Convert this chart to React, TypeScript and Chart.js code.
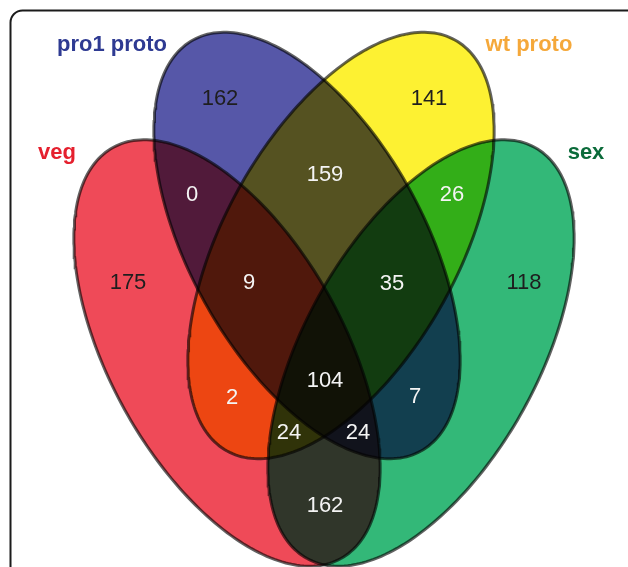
import { useEffect, useRef } from 'react';
import { Chart, registerables } from 'chart.js';

Chart.register(...registerables);

// ---- data ----
const setNames = ['veg', 'pro1 proto', 'wt proto', 'sex'];
const setFill = ['rgb(239,74,88)', 'rgb(86,87,168)', 'rgb(253,241,50)', 'rgb(51,184,120)'];
const setLabelColor = ['#E5202E', '#2E3A92', '#F5A83A', '#0B6B3A'];

// region counts (one per Venn region)
const regionNames = [
  'veg', 'pro1', 'wt', 'sex',
  'veg&pro1', 'pro1&wt', 'wt&sex',
  'veg&pro1&wt', 'pro1&wt&sex', 'all',
  'veg&wt', 'pro1&sex', 'veg&wt&sex', 'veg&pro1&sex', 'veg&sex',
];
const regionCounts = [175, 162, 141, 118, 0, 159, 26, 9, 35, 104, 2, 7, 24, 24, 162];

// ---- layout (canvas units) ----
const regionX = [128, 220, 429, 524, 192, 325, 452, 249, 392, 325, 232, 415, 289, 358, 325];
const regionY = [283, 99, 99, 283, 195, 175, 195, 283, 284, 381, 398, 397, 433, 433, 506];
const regionLightText = [false, false, false, false, true, true, true, true, true, true, true, true, true, true, true];
const setLabelX = [57, 112, 529, 586];
const setLabelY = [153, 45, 45, 153];

// ellipse geometry
const ellipseCX = [227, 307, 341, 421];
const ellipseCY = [353, 245.5, 245.5, 353];
const ellipseRot = [61, 61, 119, 119];
const ellipseA = 235;
const ellipseB = 117;

function ellipseOutline(i: number) {
  const pts: { x: number; y: number }[] = [];
  const r = (ellipseRot[i] * Math.PI) / 180;
  const n = 240;
  for (let k = 0; k <= n; k++) {
    const t = (2 * Math.PI * k) / n;
    const ex = ellipseA * Math.cos(t);
    const ey = ellipseB * Math.sin(t);
    pts.push({
      x: ellipseCX[i] + ex * Math.cos(r) - ey * Math.sin(r),
      y: ellipseCY[i] + ex * Math.sin(r) + ey * Math.cos(r),
    });
  }
  return pts;
}

const vennPlugin = {
  id: 'vennPlugin',
  beforeDraw(chart: any) {
    const ctx = chart.ctx;
    ctx.save();
    ctx.fillStyle = '#ffffff';
    ctx.fillRect(0, 0, chart.width, chart.height);
    ctx.strokeStyle = '#1b1b1b';
    ctx.lineWidth = 2;
    ctx.beginPath();
    ctx.roundRect(10.5, 10.5, 628, 620, 12);
    ctx.stroke();
    ctx.restore();
  },
  beforeDatasetsDraw(chart: any) {
    chart.ctx.save();
    chart.ctx.globalCompositeOperation = 'multiply';
  },
  beforeDatasetDraw(chart: any, args: any) {
    const ctx = chart.ctx;
    const ds = chart.data.datasets[args.index];
    const line = args.meta.dataset;
    if (!line) return;
    ctx.save();
    ctx.globalCompositeOperation = 'multiply';
    ctx.fillStyle = ds.backgroundColor;
    ctx.beginPath();
    line.path(ctx);
    ctx.closePath();
    ctx.fill();
    ctx.restore();
  },
  afterDatasetsDraw(chart: any) {
    const ctx = chart.ctx;
    ctx.restore();
    const xs = chart.scales.x;
    const ys = chart.scales.y;
    ctx.save();
    ctx.textAlign = 'center';
    ctx.textBaseline = 'middle';
    ctx.font = "22px 'Liberation Sans', Arial, sans-serif";
    regionCounts.forEach((c, i) => {
      ctx.fillStyle = regionLightText[i] ? '#f4f4f4' : '#1e1e1e';
      ctx.fillText(String(c), xs.getPixelForValue(regionX[i]), ys.getPixelForValue(regionY[i]));
    });
    ctx.font = "bold 22px 'Liberation Sans', Arial, sans-serif";
    setNames.forEach((s, i) => {
      ctx.fillStyle = setLabelColor[i];
      ctx.fillText(s, xs.getPixelForValue(setLabelX[i]), ys.getPixelForValue(setLabelY[i]));
    });
    ctx.restore();
  },
};

export default function App() {
  const ref = useRef<HTMLCanvasElement | null>(null);
  useEffect(() => {
    document.body.style.margin = '0';
    if (!ref.current) return;
    const chart = new Chart(ref.current, {
      type: 'scatter',
      data: {
        datasets: setNames.map((name, i) => ({
          label: name,
          data: ellipseOutline(i),
          showLine: true,
          fill: false,
          tension: 0,
          pointRadius: 0,
          borderColor: 'rgba(70,70,70,0.85)',
          borderWidth: 3,
          backgroundColor: setFill[i],
        })),
      },
      options: {
        responsive: false,
        animation: false,
        events: [],
        layout: { padding: 0 },
        plugins: { legend: { display: false }, tooltip: { enabled: false } },
        scales: {
          x: { type: 'linear', min: 0, max: 628, display: false },
          y: { type: 'linear', min: 0, max: 567, reverse: true, display: false },
        },
      },
      plugins: [vennPlugin],
    } as any);
    return () => chart.destroy();
  }, []);
  return (
    <div style={{ width: 628, height: 567 }}>
      <canvas ref={ref} width={628} height={567} style={{ display: 'block' }} />
    </div>
  );
}
